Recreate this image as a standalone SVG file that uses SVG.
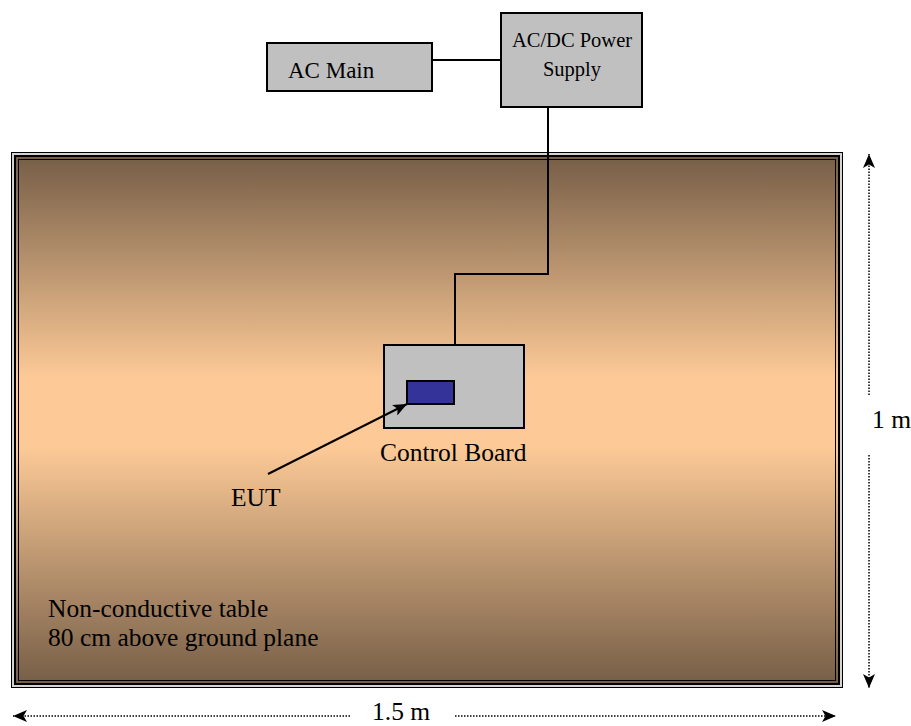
<svg xmlns="http://www.w3.org/2000/svg" width="911" height="726" viewBox="0 0 911 726">
<style>
text{font-family:"Liberation Serif","Noto Serif","DejaVu Serif",serif;fill:#000}
.box{fill:#c0c0c0;stroke:#000;stroke-width:2}
.wire{fill:none;stroke:#000;stroke-width:2}
.dim{fill:none;stroke:#000;stroke-width:1.5;stroke-dasharray:1.5 1.5}
.t25{font-size:25.5px}
</style>
<defs>
<linearGradient id="tableGrad" x1="0" y1="0" x2="0" y2="1">
<stop offset="0" stop-color="#765e47"/>
<stop offset="0.42" stop-color="#fdca97"/>
<stop offset="0.55" stop-color="#fdca97"/>
<stop offset="1" stop-color="#765e47"/>
</linearGradient>
<marker id="arrow" viewBox="0 0 14 12" refX="14" refY="6" markerWidth="14" markerHeight="12" markerUnits="userSpaceOnUse" orient="auto">
<path d="M0,0 L14,6 L0,12 L3.5,6 z" fill="#000"/>
</marker>
</defs>

<g id="table" font-family="Liberation Serif, serif">
<rect x="11.5" y="152.5" width="831" height="535" fill="#d4d4d4" stroke="#000" stroke-width="1"/>
<rect x="15" y="156" width="824" height="528" fill="url(#tableGrad)" stroke="#000" stroke-width="2"/>
<rect x="18.5" y="159.5" width="817" height="521" fill="none" stroke="#000" stroke-width="1"/>
<text class="t25" x="48" y="617" font-family="Liberation Serif, serif">Non-conductive table</text>
<text class="t25" x="48" y="646" font-family="Liberation Serif, serif">80 cm above ground plane</text>
</g>

<g id="ac-main">
<rect class="box" x="267" y="43" width="165" height="48"/>
<text x="288" y="78" font-size="23" font-family="Liberation Serif, serif">AC Main</text>
</g>

<g id="power-supply">
<rect class="box" x="501" y="13" width="141" height="94"/>
<text x="572" y="47" font-size="20.5" text-anchor="middle" font-family="Liberation Serif, serif">AC/DC Power</text>
<text x="572" y="76" font-size="20.5" text-anchor="middle" font-family="Liberation Serif, serif">Supply</text>
</g>

<g id="control-board">
<rect class="box" x="384" y="345" width="140" height="83"/>
<text class="t25" x="380" y="461" font-family="Liberation Serif, serif">Control Board</text>
</g>

<g id="eut">
<rect x="407" y="381" width="47" height="23" fill="#333399" stroke="#000" stroke-width="2"/>
<text class="t25" x="231" y="506" font-family="Liberation Serif, serif">EUT</text>
</g>

<g id="connectors">
<path class="wire" d="M432,60 L501,60"/>
<path class="wire" d="M548,107 L548,274 L455,274 L455,345"/>
<path class="wire" d="M268,474 L407,404" marker-end="url(#arrow)"/>
<path class="dim" d="M869,395 L869,154" marker-end="url(#arrow)"/>
<path class="dim" d="M869,455 L869,688" marker-end="url(#arrow)"/>
<path class="dim" d="M350,716 L13,716" marker-end="url(#arrow)"/>
<path class="dim" d="M455,716 L836,716" marker-end="url(#arrow)"/>
</g>

<g id="labels">
<text class="t25" x="872" y="428" font-family="Liberation Serif, serif">1 m</text>
<text class="t25" x="372" y="720" font-family="Liberation Serif, serif">1.5 m</text>
</g>
</svg>
